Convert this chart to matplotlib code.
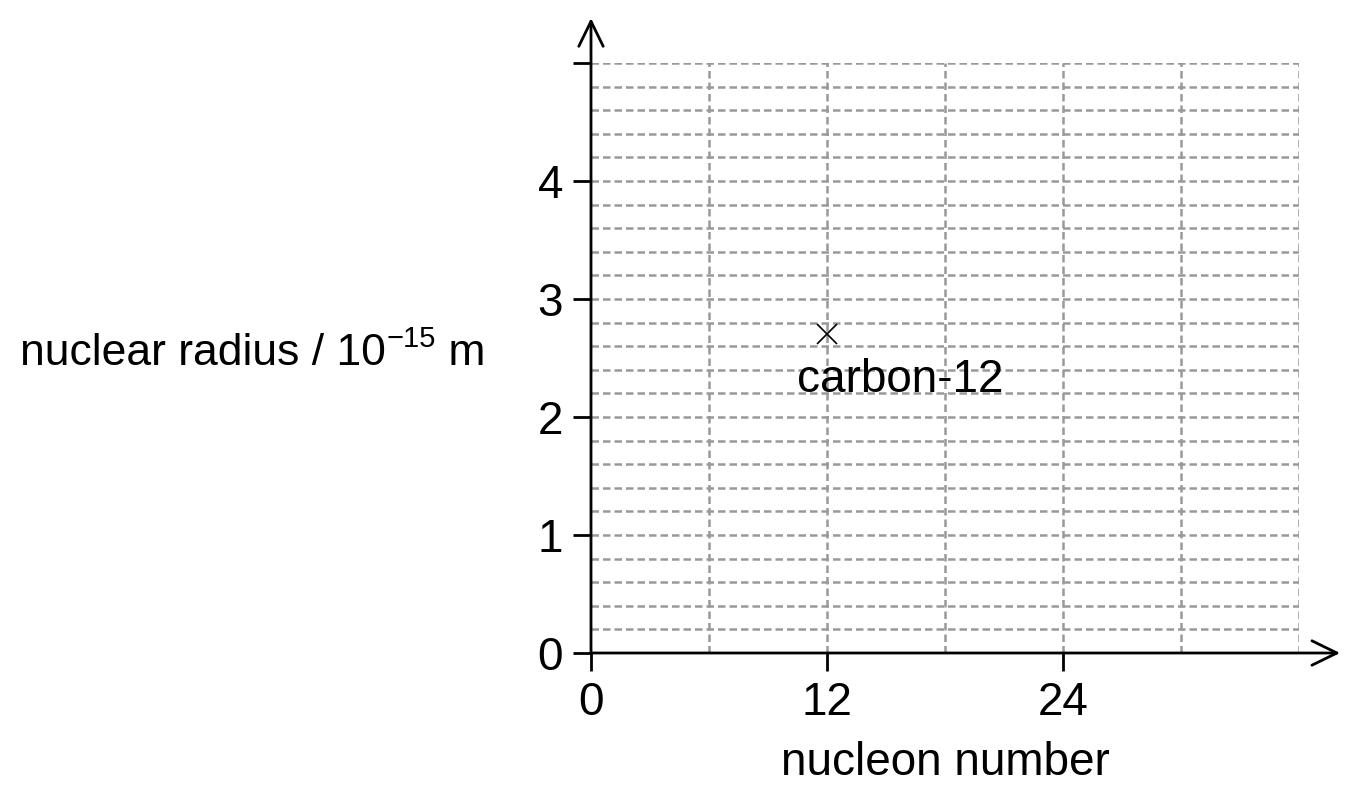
import numpy as np
import matplotlib
matplotlib.use("Agg")
import matplotlib.pyplot as plt

# Data
point_x = [12]
point_y = [2.7]
point_label = "carbon-12"
x_ticks = [0, 12, 24]
y_ticks = [0, 1, 2, 3, 4, 5]
y_tick_labels = ["0", "1", "2", "3", "4", ""]
x_grid = np.arange(6, 37, 6)
y_grid = np.round(np.arange(0.2, 5.01, 0.2), 2)
x_max, y_max = 36, 5

plt.rcParams['font.family'] = ['Liberation Sans', 'DejaVu Sans']

FS = 16.5
W, H, DPI = 1364, 795, 200
fig = plt.figure(figsize=(W / DPI, H / DPI), dpi=DPI)
left, right, bottom, top = 591 / W, 1299 / W, (H - 653) / H, (H - 63) / H
ax = fig.add_axes([left, bottom, right - left, top - bottom])
ax.set_xlim(0, x_max)
ax.set_ylim(0, y_max)
for s in ax.spines.values():
    s.set_visible(False)

grid_kw = dict(color='#999999', linewidth=0.9, linestyle=(0, (3.0, 1.6)), zorder=1)
ax.vlines(x_grid, 0, y_max, **grid_kw)
ax.hlines(y_grid, 0, x_max, **grid_kw)

# axes with arrows
arrow_kw = dict(arrowstyle='->,head_length=0.45,head_width=0.22', color='black',
                linewidth=1.0, mutation_scale=20, shrinkA=0, shrinkB=0)
ax.annotate('', xy=(1.058, 0), xytext=(0, 0), xycoords='axes fraction',
            textcoords='axes fraction', arrowprops=arrow_kw, annotation_clip=False, zorder=3)
ax.annotate('', xy=(0, 1.076), xytext=(0, 0), xycoords='axes fraction',
            textcoords='axes fraction', arrowprops=arrow_kw, annotation_clip=False, zorder=3)

ax.set_xticks(x_ticks)
ax.set_xticklabels([str(t) for t in x_ticks])
ax.set_yticks(y_ticks)
ax.set_yticklabels(y_tick_labels)
ax.tick_params(direction='out', length=6.5, width=1.0, labelsize=FS, pad=3.5, color='black')

ax.plot(point_x, point_y, linestyle='none', marker='x', markersize=7, markeredgewidth=0.6,
        color='black', zorder=4)
ax.text(10.47, 2.21, point_label, fontsize=FS, ha='left', va='baseline', zorder=4)

fig.text(945 / W, (H - 775) / H, 'nucleon number', fontsize=FS, ha='center', va='baseline')

# y-axis label built from pieces (with superscript)
base_y = (H - 365) / H
t1 = fig.text(20 / W, base_y, 'nuclear radius / 10', fontsize=16, ha='left', va='baseline')
fig.canvas.draw()
r = fig.canvas.get_renderer()
bb1 = t1.get_window_extent(r)
t2 = fig.text((bb1.x1 + 1) / W, base_y + 18 / H, '\u221215', fontsize=10.5,
              ha='left', va='baseline')
bb2 = t2.get_window_extent(r)
fig.text(bb2.x1 / W, base_y, ' m', fontsize=16, ha='left', va='baseline')

fig.savefig('out.png', dpi=DPI)
